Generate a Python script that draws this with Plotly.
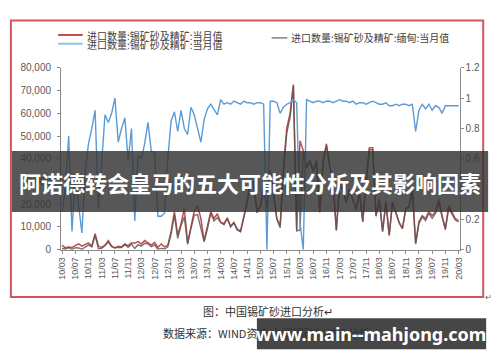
import plotly.graph_objects as go

# Months 2010-03 .. 2020-03 (categories)
months = []
for yy in range(2010, 2021):
    for mm in range(1, 13):
        if (yy == 2010 and mm < 3) or (yy == 2020 and mm > 3):
            continue
        months.append(f"{yy % 100:02d}/{mm:02d}")
tick_labels = months[::4]

# 进口数量:锡矿砂及精矿:当月值 (total, left axis, tonnes)
total_imports = [
    2000, 800, 1200, 1000, 1800, 2500, 1500, 2200, 3000, 1500,
    7000, 1500, 1000, 2000, 4000, 1500, 800, 1500, 1200, 2500,
    1800, 3000, 2800, 3500, 2500, 4000, 3000, 2000, 3200, 1000,
    2500, 1200, 2000, 8000, 16700, 6400, 11500, 18000, 3000, 10000,
    17000, 19300, 13700, 3900, 10000, 16700, 13700, 15800, 12000, 11500,
    14000, 10300, 12000, 9000, 8100, 14000, 21000, 30800, 29500, 16700,
    19300, 27800, 19300, 35000, 25000, 13700, 10700, 36400, 53500, 60000,
    72700, 8600, 47900, 43600, 36400, 39300, 35000, 39300, 16700, 39300,
    46600, 37200, 30000, 8600, 29500, 26500, 21000, 26500, 22200, 18000,
    25200, 12400, 30000, 44900, 44900, 15000, 22200, 8100, 21000, 6400,
    21000, 16700, 12000, 9400, 18000, 19300, 26500, 3000, 12400, 15000,
    13700, 16700, 15000, 16700, 22200, 15000, 9400, 19300, 16700, 13700,
    12800,
]

# 进口数量:锡矿砂及精矿:缅甸:当月值 (Myanmar, left axis)
myanmar_imports = [
    500, 320, 900, 120, 860, 750, 170, 1140, 2100, 1200,
    6440, 420, 550, 1780, 3360, 1350, 800, 1070, 960, 2180,
    1060, 2400, 530, 2170, 1500, 2800, 2520, 1300, 2050, 220,
    550, 290, 1200, 6800, 15200, 5000, 10600, 14400, 2300, 9400,
    15100, 15400, 9700, 3400, 9300, 16000, 12600, 14100, 11900, 11000,
    13600, 10000, 11700, 8700, 7900, 13600, 20300, 29900, 28600, 16200,
    18700, 26700, 18000, 34300, 24500, 13400, 9600, 34200, 51400, 58200,
    72000, 8300, 8600, 43000, 36000, 38500, 34300, 38500, 16400, 38500,
    45700, 36500, 29400, 8400, 28900, 26000, 20600, 26000, 21800, 17600,
    24700, 12200, 29400, 44000, 44000, 14700, 21800, 7900, 20600, 6300,
    20600, 16400, 11800, 9200, 17600, 18900, 26000, 2400, 11400, 14400,
    12800, 16000, 13800, 15900, 20900, 14300, 8700, 18300, 15900, 13000,
    12200,
]

# Myanmar share (right axis)
myanmar_share = [
    0.25, 0.40, 0.75, 0.12, 0.48, 0.30, 0.11, 0.52, 0.70, 0.80,
    0.92, 0.27, 0.55, 0.89, 0.84, 0.90, 1.00, 0.71, 0.80, 0.87,
    0.59, 0.80, 0.19, 0.62, 0.60, 0.70, 0.84, 0.65, 0.64, 0.22,
    0.22, 0.24, 0.60, 0.85, 0.91, 0.78, 0.92, 0.80, 0.76, 0.94,
    0.89, 0.80, 0.71, 0.86, 0.93, 0.96, 0.92, 0.89, 0.99, 0.96,
    0.97, 0.96, 0.98, 0.97, 0.96, 0.98, 0.97, 0.97, 0.96, 0.97,
    0.97, 0.96, 0.00, 0.98, 0.98, 0.97, 0.90, 0.94, 0.96, 0.97,
    0.99, 0.97, 0.18, 0.00, 0.99, 0.98, 0.97, 0.98, 0.98, 0.97,
    0.98, 0.98, 0.97, 0.98, 0.99, 0.98, 0.98, 0.97, 0.98, 0.96,
    0.97, 0.97, 0.96, 0.97, 0.98, 0.97, 0.96, 0.96, 0.97, 0.95,
    0.95, 0.96, 0.95, 0.96, 0.96, 0.95, 0.96, 0.78, 0.92, 0.96,
    0.93, 0.96, 0.92, 0.95, 0.94, 0.90, 0.95, 0.95, 0.95, 0.95,
    0.95,
]

left_ticks = [0, 10000, 20000, 30000, 40000, 50000, 60000, 70000, 80000]
right_ticks = [0, 0.2, 0.4, 0.6, 0.8, 1.0, 1.2]

RED = "#c0504d"
GRAY = "rgba(95,85,85,0.85)"
BLUE = "#5b9bd5"
W, H = 500, 362


def px(x):
    return x / W


def py(y):
    return 1 - y / H


fig = go.Figure()
fig.add_trace(go.Scatter(x=months, y=total_imports, mode="lines",
                         line=dict(color=RED, width=1.5), showlegend=False))
fig.add_trace(go.Scatter(x=months, y=myanmar_imports, mode="lines",
                         line=dict(color=GRAY, width=1.4), showlegend=False))
fig.add_trace(go.Scatter(x=months, y=myanmar_share, mode="lines", yaxis="y2",
                         line=dict(color=BLUE, width=1.4), showlegend=False))

axis_font = dict(family="Liberation Sans, Arial, sans-serif", size=10, color="#595959")

fig.update_layout(
    width=W, height=H, margin=dict(l=0, r=0, t=0, b=0),
    paper_bgcolor="white", plot_bgcolor="white",
    xaxis=dict(domain=[px(58), px(463)], type="category", range=[-0.3, 120.3],
               tickmode="array", tickvals=tick_labels, ticktext=tick_labels,
               tickangle=-90, tickfont=dict(family="Liberation Sans, Arial, sans-serif", size=9, color="#595959"),
               showgrid=False, zeroline=False, showline=True, linecolor="#8c8c8c", linewidth=1,
               ticks="outside", ticklen=3, tickcolor="#8c8c8c"),
    yaxis=dict(domain=[py(252), py(64)], range=[0, 80000], tickvals=left_ticks,
               tickformat=",d", tickfont=axis_font, showgrid=False, zeroline=False,
               showline=True, linecolor="#8c8c8c", linewidth=1, ticks="outside",
               ticklen=3, tickcolor="#8c8c8c", ticklabelstandoff=4),
    yaxis2=dict(domain=[py(252), py(64)], range=[0, 1.2], overlaying="y", side="right",
                anchor="x", tickvals=right_ticks, ticktext=["0", "0.2", "0.4", "0.6", "0.8", "1", "1.2"],
                tickfont=axis_font, showgrid=False, zeroline=False,
                showline=True, linecolor="#8c8c8c", linewidth=1, ticks="outside",
                ticklen=3, tickcolor="#8c8c8c"),
)

shapes = [
    # red frame
    dict(type="rect", xref="paper", yref="paper", x0=px(7), x1=px(487), y0=py(301), y1=py(15),
         line=dict(color="#d4555a", width=2), fillcolor="rgba(0,0,0,0)", layer="below"),
    # legend samples
    dict(type="line", xref="paper", yref="paper", x0=px(55), x1=px(80), y0=py(30), y1=py(30),
         line=dict(color=RED, width=2)),
    dict(type="line", xref="paper", yref="paper", x0=px(55), x1=px(80), y0=py(39), y1=py(39),
         line=dict(color="#8fc3de", width=2)),
    dict(type="line", xref="paper", yref="paper", x0=px(272), x1=px(288), y0=py(33), y1=py(33),
         line=dict(color="#7f7f7f", width=1.5)),
    # banner
    dict(type="rect", xref="paper", yref="paper", x0=px(8), x1=px(492), y0=py(213), y1=py(150),
         line=dict(width=0), fillcolor="rgba(55,55,55,0.84)", layer="above"),
    # watermark box
    dict(type="rect", xref="paper", yref="paper", x0=px(257), x1=px(490), y0=py(355), y1=py(323),
         line=dict(width=0), fillcolor="rgba(60,60,60,0.95)", layer="above"),
]
fig.update_layout(shapes=shapes)

legend_font = dict(family="Noto Sans CJK SC", size=10, color="#404040")
ann = [
    dict(x=px(82), y=py(30), text="进口数量:锡矿砂及精矿:当月值", xanchor="left", yanchor="middle",
         font=legend_font),
    dict(x=px(82), y=py(40), text="进口数量:锡矿砂及精矿:当月值", xanchor="left", yanchor="middle",
         font=legend_font),
    dict(x=px(290), y=py(33), text="进口数量:锡矿砂及精矿:缅甸:当月值", xanchor="left", yanchor="middle",
         font=legend_font),
    dict(x=px(250), y=py(182), text="<b>阿诺德转会皇马的五大可能性分析及其影响因素</b>",
         xanchor="center", yanchor="middle",
         font=dict(family="Noto Sans CJK SC", size=22, color="white")),
    dict(x=px(200), y=py(315), text="图：中国锡矿砂进口分析↵", xanchor="left", yanchor="middle",
         font=dict(family="Noto Sans CJK SC", size=11, color="#333333")),
    dict(x=px(160), y=py(338), text="数据来源：WIND资讯 中国锡矿砂进口分析", xanchor="left", yanchor="middle",
         font=dict(family="Noto Sans CJK SC", size=11, color="#333333")),
    dict(x=px(373), y=py(339), text="<b>www.main--mahjong.com</b>", xanchor="center", yanchor="middle",
         font=dict(family="Noto Sans", size=18, color="white")),
    dict(x=px(492), y=py(300), text="↵", xanchor="center", yanchor="middle",
         font=dict(family="Noto Sans CJK SC", size=8, color="#666666")),
]
for a in ann:
    a.update(xref="paper", yref="paper", showarrow=False)
fig.update_layout(annotations=ann)

fig.write_html("out.html")
